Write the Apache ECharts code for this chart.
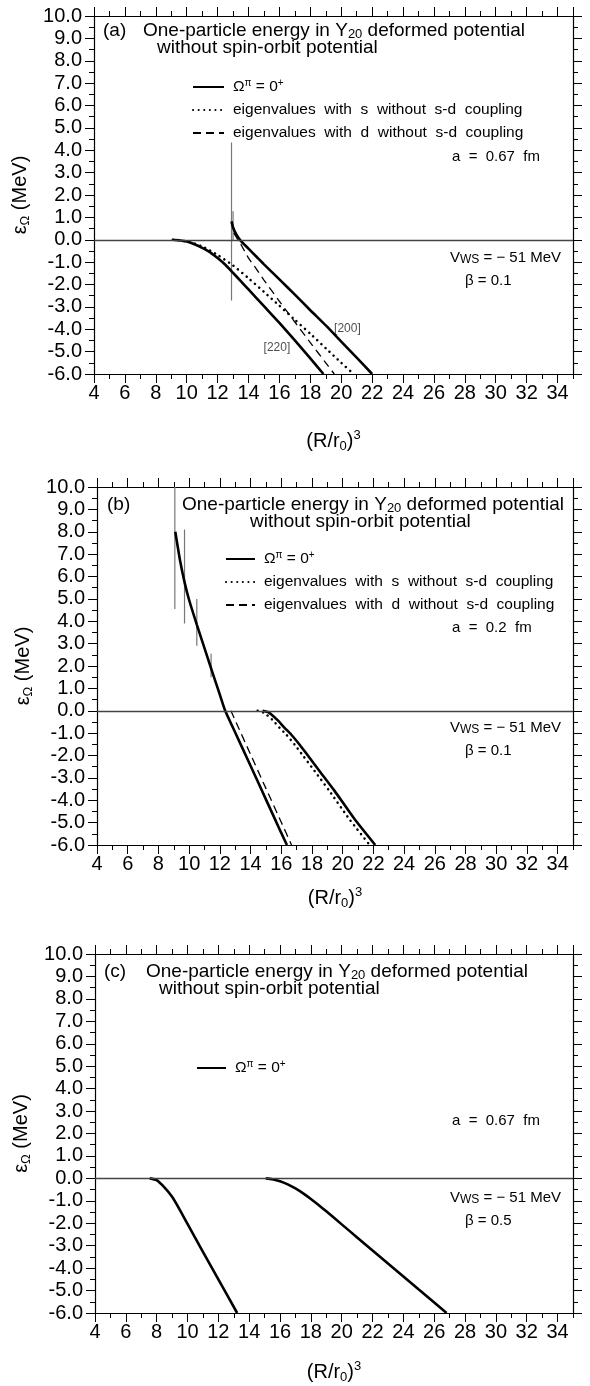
<!DOCTYPE html>
<html>
<head>
<meta charset="utf-8">
<script src="https://cdn.jsdelivr.net/npm/echarts@6/dist/echarts.min.js"></script>
<style>
  html, body { margin: 0; padding: 0; background: #fff; }
  #chart { width: 590px; height: 1386px; }
</style>
</head>
<body>
<div id="chart"></div>
<script>
// axis ranges
const xMin = 4, xMax = 35, yMin = -6, yMax = 10

// (a) a = 0.67 fm, beta = 0.1
const a220 = [[9.1, 0], [9.5, -0.02], [10, -0.08], [10.5, -0.2], [11, -0.36], [11.5, -0.55], [12, -0.82], [12.5, -1.12], [13, -1.48], [13.5, -1.85], [14, -2.22], [15, -2.97], [16, -3.72], [17, -4.5], [18, -5.3], [18.85, -6]]
const a200 = [[12.9, 0.82], [13, 0.55], [13.2, 0.25], [13.5, -0.05], [14, -0.4], [14.5, -0.75], [15, -1.1], [16, -1.77], [17, -2.45], [18, -3.15], [19, -3.83], [20, -4.55], [21, -5.27], [22, -6]]
const aDotS = [[9.1, 0], [10, -0.07], [11, -0.3], [12, -0.68], [13, -1.15], [14, -1.72], [15, -2.33], [16, -2.95], [17, -3.58], [18, -4.2], [19, -4.85], [20, -5.5], [20.8, -6]]
const aDashD = [[13.05, 0.3], [13.3, 0.02], [13.5, -0.2], [14, -0.82], [14.5, -1.3], [15, -1.8], [16, -2.75], [17, -3.68], [18, -4.6], [19, -5.5], [19.55, -6]]
const aSpikes = [[12.9, 4.35, -2.72], [13.0, 1.27, -0.05]]
const aTags = [['[200]', 20.4, -3.97], ['[220]', 15.84, -4.82]]

// (b) a = 0.2 fm, beta = 0.1
const bLow = [[9.1, 8.0], [9.4, 6.75], [9.7, 5.75], [10, 4.95], [10.5, 3.85], [11, 2.8], [11.5, 1.75], [12, 0.72], [12.35, 0], [13, -0.97], [14, -2.46], [15, -3.96], [16, -5.46], [16.37, -6]]
const bLowDash = [[12.72, 0], [13, -0.43], [14, -1.95], [15, -3.47], [16, -4.98], [16.67, -6]]
const bHigh = [[14.78, 0], [15.2, -0.08], [15.76, -0.42], [16.2, -0.75], [16.63, -1.05], [17.2, -1.52], [17.72, -1.99], [18.5, -2.7], [19.46, -3.57], [20.77, -4.84], [22.12, -6]]
const bDotS = [[14.46, 0], [14.9, -0.1], [15.44, -0.42], [15.9, -0.77], [16.31, -1.05], [16.88, -1.52], [17.4, -1.99], [18.18, -2.7], [19.12, -3.57], [20.43, -4.84], [21.76, -6]]
const bSpikes = [[9.07, 10, 4.55], [9.7, 8.1, 3.9], [10.5, 5.0, 2.9], [11.43, 2.55, 1.5]]

// (c) a = 0.67 fm, beta = 0.5
const cLeft = [[7.55, 0], [8, -0.08], [8.5, -0.4], [9, -0.82], [9.5, -1.4], [10, -2.03], [11, -3.28], [12, -4.5], [13.22, -6]]
const cRight = [[15.07, 0], [15.5, -0.04], [16, -0.13], [16.5, -0.27], [17, -0.45], [17.5, -0.67], [18, -0.92], [18.5, -1.19], [19, -1.47], [20, -2.05], [21, -2.63], [22, -3.21], [23, -3.79], [24, -4.37], [25, -4.95], [26, -5.53], [26.8, -6]]

const FONT = '"Liberation Sans", Arial, Helvetica, sans-serif'
const BLACK = '#000'

const grids = [
  { left: 94, top: 16, width: 479, height: 358 },
  { left: 97, top: 487, width: 476, height: 358 },
  { left: 95, top: 954, width: 478, height: 359 }
]
const xNameGaps = [55, 41, 47]

const styles = {
  solid: { color: BLACK, width: 2.6 },
  dot: { color: BLACK, width: 2.5, type: [0.1, 5.5], cap: 'round' },
  dash: { color: BLACK, width: 1.3, type: [8, 5] },
  spike: { color: '#777', width: 1.2 }
}

const legendNames = {
  omega: '{t|Ω}{s|π}{t| = 0}{s|+}',
  sdot: 'eigenvalues  with  s  without  s-d  coupling',
  ddash: 'eigenvalues  with  d  without  s-d  coupling'
}

function xAxes(i) {
  const base = {
    type: 'value', gridIndex: i, min: xMin, max: xMax,
    splitLine: { show: false },
    axisLine: { onZero: false, show: false },
    axisLabel: { show: false },
    axisTick: { lineStyle: { color: BLACK, width: 1 } }
  }
  const major = (pos) => ({
    ...base, position: pos, interval: 2,
    axisLine: { onZero: false, show: true, lineStyle: { color: BLACK, width: 1.2 } },
    axisTick: { length: 9, lineStyle: { color: BLACK, width: 1 } }
  })
  const minor = (pos) => ({ ...base, position: pos, interval: 1, axisTick: { length: 5, lineStyle: { color: BLACK, width: 1 } } })
  const bottom = major('bottom')
  bottom.axisLabel = {
    show: true, fontSize: 20, color: BLACK, fontFamily: FONT, margin: 9, showMaxLabel: false
  }
  bottom.name = '(R/r{sub|0}){sup|3}'
  bottom.nameLocation = 'middle'
  bottom.nameGap = xNameGaps[i]
  bottom.nameTextStyle = {
    fontSize: 20, color: BLACK, fontFamily: FONT, lineHeight: 24,
    rich: {
      sub: { fontSize: 13, fontFamily: FONT, color: BLACK, lineHeight: 16, verticalAlign: 'bottom' },
      sup: { fontSize: 13, fontFamily: FONT, color: BLACK, lineHeight: 14, verticalAlign: 'top' }
    }
  }
  return [bottom, minor('bottom'), major('top'), minor('top')]
}

function yAxes(i) {
  const base = {
    type: 'value', gridIndex: i, min: yMin, max: yMax, interval: 1,
    splitLine: { show: false },
    axisLine: { onZero: false, lineStyle: { color: BLACK, width: 1.2 } },
    axisTick: { length: 9, lineStyle: { color: BLACK, width: 1 } },
    minorTick: { show: true, splitNumber: 2, length: 5, lineStyle: { color: BLACK, width: 1 } }
  }
  return [
    {
      ...base, position: 'left',
      axisLabel: { fontSize: 20, color: BLACK, fontFamily: FONT, margin: 12, formatter: (v) => v.toFixed(1) },
      name: 'ε{sub|Ω} (MeV)', nameLocation: 'middle', nameGap: 45,
      nameTextStyle: {
        fontSize: 20, color: BLACK, fontFamily: FONT, lineHeight: 24,
        rich: { sub: { fontSize: 13, fontFamily: FONT, color: BLACK, lineHeight: 16, verticalAlign: 'bottom' } }
      }
    },
    { ...base, position: 'right', axisLabel: { show: false } }
  ]
}

function curve(name, data, i, style, extra) {
  return {
    name, type: 'line', data, xAxisIndex: 4 * i, yAxisIndex: 2 * i,
    symbol: 'none', smooth: 0.2, silent: true,
    lineStyle: style, itemStyle: { color: BLACK }, z: 3, ...extra
  }
}

function spikes(list, i) {
  return list.map((s) => ({
    type: 'line', xAxisIndex: 4 * i, yAxisIndex: 2 * i, symbol: 'none', silent: true,
    data: [[s[0], s[1]], [s[0], s[2]]], lineStyle: styles.spike, z: 2
  }))
}

const zeroLine = {
  silent: true, symbol: 'none', label: { show: false },
  lineStyle: { color: '#444', width: 1.3, type: 'solid' },
  data: [{ yAxis: 0 }]
}

const series = [
  curve('omega', a220, 0, styles.solid, { markLine: zeroLine }),
  curve('omega', a200, 0, styles.solid),
  curve('sdot', aDotS, 0, styles.dot),
  curve('ddash', aDashD, 0, styles.dash),
  ...spikes(aSpikes, 0),
  {
    type: 'scatter', xAxisIndex: 0, yAxisIndex: 0, symbolSize: 0, silent: true,
    data: aTags.map((t) => ({ value: [t[1], t[2]], name: t[0] })),
    label: { show: true, position: 'inside', formatter: (p) => p.name, fontSize: 12, color: '#222', fontFamily: FONT }
  },
  curve('omega', bLow, 1, styles.solid, { markLine: zeroLine }),
  curve('ddash', bLowDash, 1, styles.dash),
  curve('omega', bHigh, 1, styles.solid),
  curve('sdot', bDotS, 1, styles.dot),
  ...spikes(bSpikes, 1),
  curve('omega', cLeft, 2, styles.solid, { markLine: zeroLine }),
  curve('omega', cRight, 2, styles.solid)
]

function legend(left, top, width, names) {
  return {
    orient: 'vertical', left, top, itemWidth: width, itemHeight: 14, itemGap: 5,
    selectedMode: false, data: names,
    itemStyle: { opacity: 0 },
    formatter: (n) => legendNames[n],
    textStyle: {
      fontSize: 15.5, color: BLACK, fontFamily: FONT, lineHeight: 18, padding: [0, 0, 0, 4],
      rich: {
        t: { fontSize: 15.5, fontFamily: FONT, color: BLACK, lineHeight: 18 },
        s: { fontSize: 10, fontFamily: FONT, color: BLACK, lineHeight: 12, verticalAlign: 'top' }
      }
    }
  }
}

function txt(x, y, text, size, extra) {
  return {
    type: 'text', x, y, silent: true,
    style: {
      text, fontSize: size, fontFamily: FONT, fill: BLACK, verticalAlign: 'middle',
      rich: {
        sub: { fontSize: Math.round(size * 0.68), fontFamily: FONT, fill: BLACK, verticalAlign: 'bottom', lineHeight: Math.round(size * 0.6) },
        ws: { fontSize: Math.round(size * 0.78), fontFamily: FONT, fill: BLACK, verticalAlign: 'bottom', lineHeight: Math.round(size * 0.75) }
      },
      ...extra
    }
  }
}

function panelText(tag, tx, ty, x1, x2, aText, aY, vY, beta) {
  return [
    txt(tx, ty, tag, 19),
    txt(x1, ty, 'One-particle energy in Y{sub|20} deformed potential', 19),
    txt(x2, ty + 17, 'without spin-orbit potential', 19),
    txt(452, aY, aText, 15),
    txt(450, vY, 'V{ws|WS} = − 51 MeV', 15),
    txt(465, vY + 23, 'β = ' + beta, 15)
  ]
}

const option = {
  animation: false,
  backgroundColor: '#fff',
  grid: grids.map((g) => ({ ...g, containLabel: false })),
  xAxis: [0, 1, 2].flatMap(xAxes),
  yAxis: [0, 1, 2].flatMap(yAxes),
  legend: [
    legend(187, 73, 31, ['omega', 'sdot', 'ddash']),
    legend(220, 545, 29, ['omega', 'sdot', 'ddash']),
    legend(191, 1054, 29, ['omega'])
  ],
  graphic: [
    ...panelText('(a)', 103, 31, 143, 157, 'a  =  0.67  fm', 157, 258, '0.1'),
    ...panelText('(b)', 107, 505, 182, 250, 'a  =  0.2  fm', 628, 728, '0.1'),
    ...panelText('(c)', 104, 972, 146, 159, 'a  =  0.67  fm', 1121, 1198, '0.5')
  ],
  series
}

const chart = echarts.init(document.getElementById('chart'), null, { renderer: 'canvas' })
chart.setOption(option)
</script>
</body>
</html>
